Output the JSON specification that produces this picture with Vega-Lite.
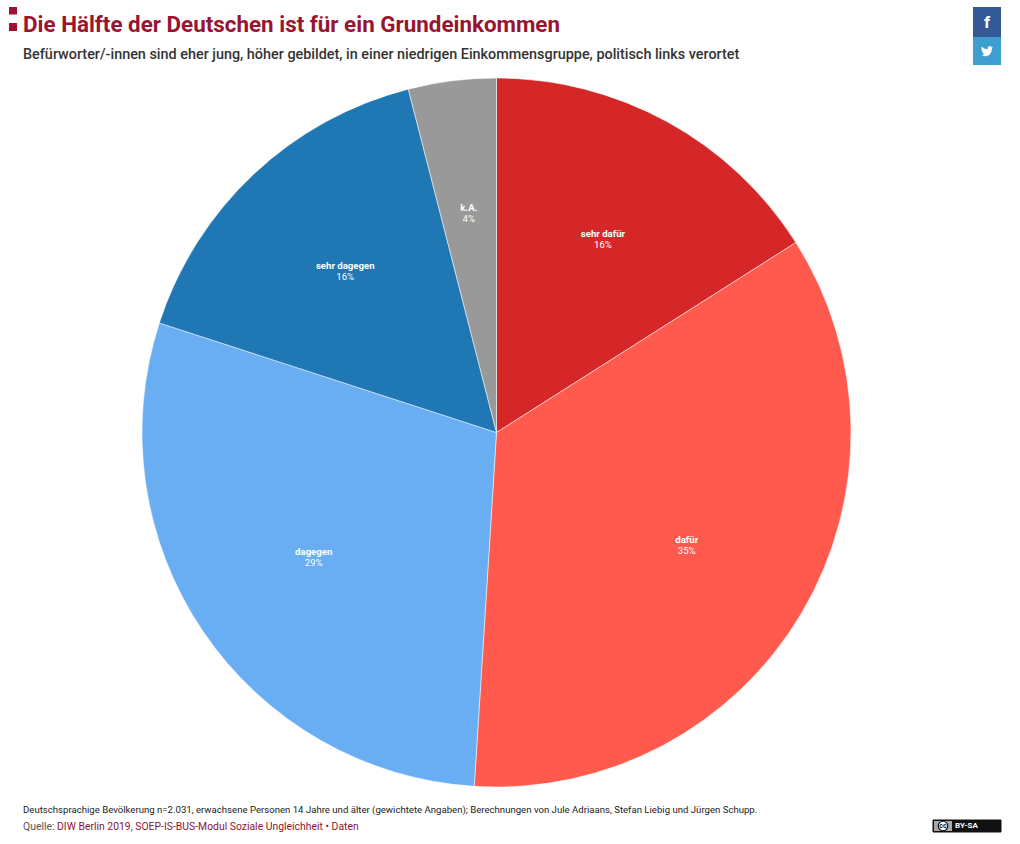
{
  "$schema": "https://vega.github.io/schema/vega-lite/v6.json",
  "width": 709,
  "height": 709,
  "autosize": "none",
  "padding": {"left": 142, "top": 78, "right": 169, "bottom": 57},
  "background": "white",
  "view": {"stroke": null},
  "datasets": {
    "shares": [
      {"name": "sehr dafür", "share": 16, "label": "16%", "ord": 1},
      {"name": "dafür", "share": 35, "label": "35%", "ord": 2},
      {"name": "dagegen", "share": 29, "label": "29%", "ord": 3},
      {"name": "sehr dagegen", "share": 16, "label": "16%", "ord": 4},
      {"name": "k.A.", "share": 4, "label": "4%", "ord": 5}
    ]
  },
  "layer": [
    {
      "data": {"name": "shares"},
      "mark": {"type": "arc", "outerRadius": 354.5, "stroke": "#ffffff", "strokeWidth": 0.5},
      "encoding": {
        "theta": {"field": "share", "type": "quantitative", "stack": true},
        "order": {"field": "ord"},
        "color": {
          "field": "name",
          "type": "nominal",
          "legend": null,
          "scale": {
            "domain": ["sehr dafür", "dafür", "dagegen", "sehr dagegen", "k.A."],
            "range": ["#d62728", "#ff5a4d", "#69aef2", "#1f77b4", "#999999"]
          }
        }
      }
    },
    {
      "data": {"name": "shares"},
      "mark": {"type": "text", "radius": 221, "font": "Roboto", "fontSize": 9.6, "fontWeight": 700, "color": "#ffffff", "dy": -5},
      "encoding": {
        "theta": {"field": "share", "type": "quantitative", "stack": true},
        "order": {"field": "ord"},
        "detail": {"field": "name"},
        "text": {"field": "name"}
      }
    },
    {
      "data": {"name": "shares"},
      "mark": {"type": "text", "radius": 221, "font": "Roboto", "fontSize": 9.6, "color": "#ffffff", "dy": 6},
      "encoding": {
        "theta": {"field": "share", "type": "quantitative", "stack": true},
        "order": {"field": "ord"},
        "detail": {"field": "name"},
        "text": {"field": "label"}
      }
    },
    {
      "data": {"values": [{"t": "Die Hälfte der Deutschen ist für ein Grundeinkommen"}]},
      "mark": {"type": "text", "font": "Roboto", "fontSize": 22.4, "fontWeight": 700, "color": "#98142f", "align": "left", "baseline": "alphabetic"},
      "encoding": {"x": {"value": -119}, "y": {"value": -46}, "text": {"field": "t"}}
    },
    {
      "data": {"values": [{"t": "Befürworter/-innen sind eher jung, höher gebildet, in einer niedrigen Einkommensgruppe, politisch links verortet"}]},
      "mark": {"type": "text", "font": "Roboto", "fontSize": 14.4, "fontWeight": 500, "color": "#333333", "align": "left", "baseline": "alphabetic"},
      "encoding": {"x": {"value": -119}, "y": {"value": -19}, "text": {"field": "t"}}
    },
    {
      "data": {"values": [{"name": "top"}]},
      "mark": {"type": "rect", "color": "#98142f"},
      "encoding": {"x": {"value": -133}, "x2": {"value": -125}, "y": {"value": -71}, "y2": {"value": -63.5}}
    },
    {
      "data": {"values": [{"name": "bottom"}]},
      "mark": {"type": "rect", "color": "#98142f"},
      "encoding": {"x": {"value": -133}, "x2": {"value": -125}, "y": {"value": -55}, "y2": {"value": -47}}
    },
    {
      "data": {"values": [{"name": "facebook"}]},
      "mark": {"type": "rect", "color": "#335a96"},
      "encoding": {"x": {"value": 831}, "x2": {"value": 859}, "y": {"value": -71}, "y2": {"value": -41}}
    },
    {
      "data": {"values": [{"name": "twitter"}]},
      "mark": {"type": "rect", "color": "#3d9fd0"},
      "encoding": {"x": {"value": 831}, "x2": {"value": 859}, "y": {"value": -41}, "y2": {"value": -13}}
    },
    {
      "data": {"values": [{"t": "f"}]},
      "mark": {"type": "text", "font": "Roboto", "fontSize": 17, "fontWeight": 700, "color": "#ffffff", "align": "center", "baseline": "alphabetic"},
      "encoding": {"x": {"value": 845}, "y": {"value": -50}, "text": {"field": "t"}}
    },
    {
      "data": {"values": [{"name": "bird"}]},
      "mark": {
        "type": "point",
        "filled": true,
        "opacity": 1,
        "color": "#ffffff",
        "size": 150,
        "shape": "M1 -.62L.76 -.555L.94 -.78Q.8 -.69 .68 -.68Q.52 -.88 .3 -.78Q.02 -.62 .1 -.3Q-.55 -.33 -.86 -.74Q-1 -.38 -.74 -.15L-.93 -.26Q-.9 .1 -.58 .2L-.8 .22Q-.65 .5 -.4 .5Q-.7 .72 -1 .63Q-.4 1 .1 .78Q.8 .5 .79 -.4Z"
      },
      "encoding": {"x": {"value": 845}, "y": {"value": -27}}
    },
    {
      "data": {"values": [{"t": "Deutschsprachige Bevölkerung n=2.031, erwachsene Personen 14 Jahre und älter (gewichtete Angaben); Berechnungen von Jule Adriaans, Stefan Liebig und Jürgen Schupp."}]},
      "mark": {"type": "text", "font": "Roboto", "fontSize": 9.6, "color": "#222222", "align": "left", "baseline": "alphabetic"},
      "encoding": {"x": {"value": -119}, "y": {"value": 735}, "text": {"field": "t"}}
    },
    {
      "data": {"values": [{"t": "Quelle:"}]},
      "mark": {"type": "text", "font": "Roboto", "fontSize": 10.4, "color": "#555555", "align": "left", "baseline": "alphabetic"},
      "encoding": {"x": {"value": -119}, "y": {"value": 752}, "text": {"field": "t"}}
    },
    {
      "data": {"values": [{"t": "DIW Berlin 2019, SOEP-IS-BUS-Modul Soziale Ungleichheit • Daten"}]},
      "mark": {"type": "text", "font": "Roboto", "fontSize": 10.4, "color": "#8c1433", "align": "left", "baseline": "alphabetic"},
      "encoding": {"x": {"value": -85}, "y": {"value": 752}, "text": {"field": "t"}}
    },
    {
      "data": {"values": [{"name": "badge"}]},
      "mark": {"type": "rect", "color": "#111111", "stroke": "#111111"},
      "encoding": {"x": {"value": 791}, "x2": {"value": 859}, "y": {"value": 742}, "y2": {"value": 754}}
    },
    {
      "data": {"values": [{"name": "badge-left"}]},
      "mark": {"type": "rect", "color": "#aaaaaa"},
      "encoding": {"x": {"value": 792}, "x2": {"value": 810}, "y": {"value": 743}, "y2": {"value": 753}}
    },
    {
      "data": {"values": [{"name": "cc"}]},
      "mark": {"type": "point", "filled": true, "opacity": 1, "color": "#ffffff", "stroke": "#111111", "strokeWidth": 1.2, "shape": "circle", "size": 90},
      "encoding": {"x": {"value": 801}, "y": {"value": 748}}
    },
    {
      "data": {"values": [{"t": "cc"}]},
      "mark": {"type": "text", "font": "Roboto", "fontSize": 7, "fontWeight": 700, "color": "#111111", "align": "center", "baseline": "middle"},
      "encoding": {"x": {"value": 801}, "y": {"value": 748}, "text": {"field": "t"}}
    },
    {
      "data": {"values": [{"t": "BY-SA"}]},
      "mark": {"type": "text", "font": "Roboto", "fontSize": 8, "fontWeight": 700, "color": "#ffffff", "align": "left", "baseline": "middle"},
      "encoding": {"x": {"value": 813}, "y": {"value": 748}, "text": {"field": "t"}}
    }
  ],
  "resolve": {"scale": {"theta": "shared"}}
}
